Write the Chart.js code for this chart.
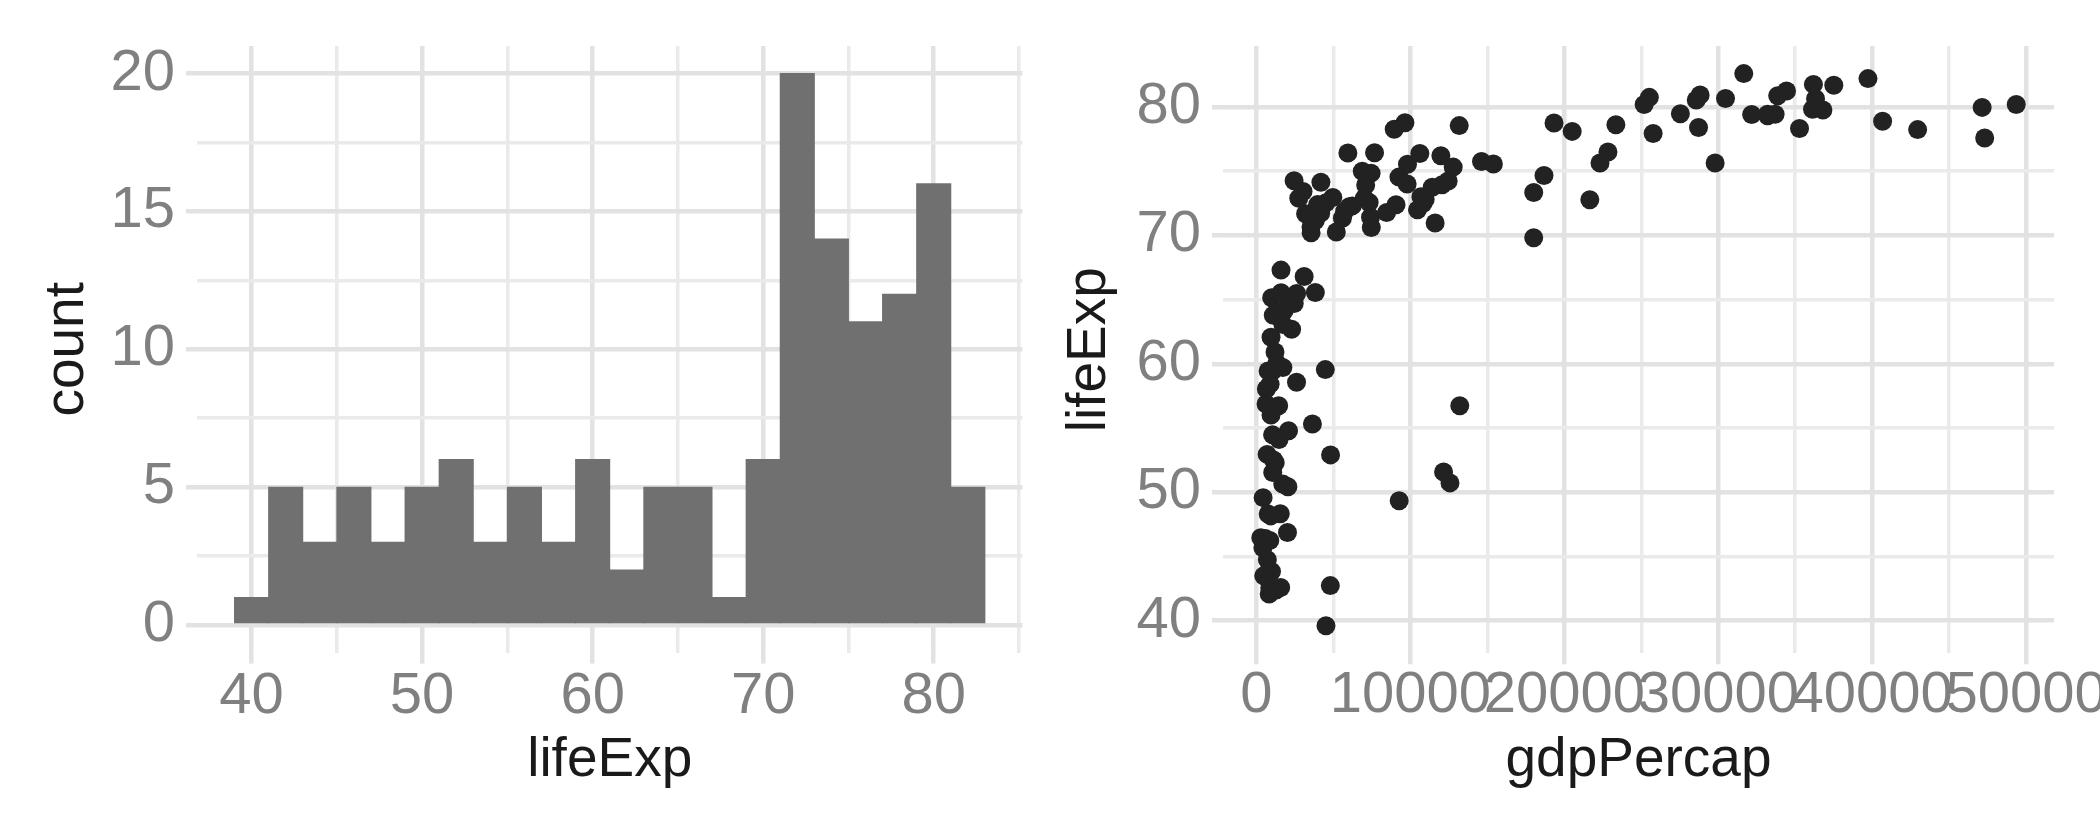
<!DOCTYPE html>
<html>
<head>
<meta charset="utf-8">
<script src="https://cdn.jsdelivr.net/npm/chart.js@4.4.1/dist/chart.umd.min.js"></script>
<style>
  body { margin: 0; background: #fff; }
  canvas { position: absolute; top: 0; }
  #histograma { left: 0; }
  #dispersion { left: 1050px; }
</style>
</head>
<body>
<canvas id="histograma" width="1050" height="840"></canvas>
<canvas id="dispersion" width="1050" height="840"></canvas>
<script>
// histograma de lifeExp (bins de 2 años)
const centrosBins = [40, 42, 44, 46, 48, 50, 52, 54, 56, 58, 60, 62, 64, 66, 68, 70, 72, 74, 76, 78, 80, 82];
const conteos = [1, 5, 3, 5, 3, 5, 6, 3, 5, 3, 6, 2, 5, 5, 1, 6, 20, 14, 11, 12, 16, 5];

// dispersión gdpPercap vs lifeExp
const gdpPercap = [975, 5937, 6223, 4797, 12779, 34435, 36126, 29796, 1391, 33693,
  1441, 3822, 7446, 12570, 9066, 10681, 1217, 430, 1714, 2042,
  36319, 706, 1704, 13172, 4959, 7007, 986, 278, 3633, 9645,
  1545, 14619, 8948, 22833, 35278, 2082, 6025, 6873, 5581, 5728,
  12154, 641, 691, 33207, 30470, 13206, 753, 32170, 1328, 27538,
  5186, 943, 579, 1202, 3548, 39725, 18009, 36181, 2452, 3541,
  11606, 4471, 40676, 25523, 28570, 7321, 31656, 4519, 1463, 1593,
  23348, 47307, 10461, 1569, 415, 12058, 1045, 759, 12452, 1043,
  1803, 10957, 11978, 3096, 9254, 3820, 824, 944, 4811, 1091,
  36798, 25185, 2749, 620, 2014, 49357, 22316, 2606, 9809, 4173,
  7409, 3190, 15390, 20510, 19329, 7670, 10808, 863, 1598, 21655,
  1712, 9787, 863, 47143, 18678, 25768, 926, 9270, 28821, 3970,
  2602, 4513, 33860, 37506, 4185, 28718, 1107, 7458, 883, 18009,
  7093, 8458, 1056, 33203, 42952, 10611, 11416, 2442, 3025, 2281,
  1271, 470];
const lifeExp = [43.83, 76.42, 72.30, 42.73, 75.32, 81.24, 79.83, 75.64, 64.06, 79.44,
  56.73, 65.55, 74.85, 50.73, 72.39, 73.01, 52.30, 49.58, 59.72, 50.43,
  80.65, 44.74, 50.65, 78.55, 72.96, 72.89, 65.15, 46.46, 55.32, 78.78,
  48.33, 75.75, 78.27, 76.49, 78.33, 54.79, 72.24, 74.99, 71.34, 71.88,
  51.58, 58.04, 52.95, 79.31, 80.66, 56.74, 59.45, 79.41, 60.02, 79.48,
  70.26, 56.01, 46.39, 60.92, 70.20, 82.21, 73.34, 81.76, 64.70, 70.65,
  70.96, 59.55, 78.89, 80.75, 80.55, 72.57, 82.60, 72.54, 54.11, 67.30,
  78.62, 77.59, 71.99, 42.59, 45.68, 73.95, 59.44, 48.30, 74.24, 54.47,
  64.16, 72.80, 76.20, 66.80, 74.54, 71.16, 42.08, 62.07, 52.91, 63.79,
  79.76, 80.20, 72.90, 56.87, 46.86, 80.20, 75.64, 65.48, 75.54, 71.75,
  71.42, 71.69, 75.56, 78.10, 78.75, 76.44, 72.48, 46.24, 65.53, 72.78,
  63.06, 74.00, 42.57, 79.97, 74.66, 77.93, 48.16, 49.34, 80.94, 72.40,
  58.56, 39.61, 80.88, 81.70, 74.14, 78.40, 52.52, 70.62, 58.42, 69.82,
  73.92, 71.78, 51.54, 79.43, 78.24, 76.38, 73.75, 74.25, 73.42, 62.70,
  42.38, 43.49];

// marcas de los ejes (mayores con etiqueta, menores solo rejilla)
const ticksVida = [40, 50, 60, 70, 80];
const ticksMenoresVida = [45, 55, 65, 75, 85];
const ticksConteo = [0, 5, 10, 15, 20];
const ticksMenoresConteo = [2.5, 7.5, 12.5, 17.5];
const ticksVidaY = [40, 50, 60, 70, 80];
const ticksMenoresVidaY = [45, 55, 65, 75];
const ticksGdp = [0, 10000, 20000, 30000, 40000, 50000];
const ticksMenoresGdp = [5000, 15000, 25000, 35000, 45000];

const fuente = "'Liberation Sans', Arial, sans-serif";
const gris = '#808080', negro = '#1a1a1a';
const colorMayor = '#e2e2e2', colorMenor = '#eaeaea';

function rejilla(mayores){
  const esMayor = c => c.tick && mayores.includes(c.tick.value);
  return {
    offset: false,
    color: c => esMayor(c) ? colorMayor : colorMenor,
    lineWidth: c => esMayor(c) ? 4.5 : 3.5,
    tickColor: c => esMayor(c) ? colorMayor : 'rgba(0,0,0,0)',
    tickLength: 11,
    drawTicks: true
  };
}

function eje(mayores, menores, extra){
  return Object.assign({
    type: 'linear',
    offset: false,
    border: { display: false },
    grid: rejilla(mayores),
    afterBuildTicks: s => {
      s.ticks = mayores.concat(menores).sort((a, b) => a - b).map(v => ({ value: v }));
    },
    ticks: {
      autoSkip: false, maxRotation: 0, minRotation: 0,
      color: gris, font: { family: fuente, size: 58, lineHeight: 1 },
      callback: v => mayores.includes(v) ? String(v) : ''
    }
  }, extra);
}

function titulo(texto, padding){
  return { display: true, text: texto, color: negro, font: { family: fuente, size: 55, lineHeight: 1.2 }, padding: padding };
}

const comunes = {
  responsive: false,
  devicePixelRatio: 1,
  animation: false,
  events: [],
  plugins: { legend: { display: false }, tooltip: { enabled: false } }
};

let grafico1 = new Chart(document.getElementById('histograma').getContext('2d'), {
  type: 'bar',
  data: {
    datasets: [{
      data: centrosBins.map((c, i) => ({ x: c, y: conteos[i] })),
      backgroundColor: '#707070',
      borderWidth: 0,
      barPercentage: 1,
      categoryPercentage: 1,
      inflateAmount: 0.5
    }]
  },
  options: Object.assign({}, comunes, {
    layout: { padding: { left: 0, top: 46, right: 27.6, bottom: 0 } },
    scales: {
      x: eje(ticksVida, ticksMenoresVida, {
        min: 36.8, max: 85.2,
        title: titulo('lifeExp', { top: 0, bottom: 46 }),
        afterFit: s => { s.height = 187.4; s.paddingLeft = 0; s.paddingRight = 0; }
      }),
      y: eje(ticksConteo, ticksMenoresConteo, {
        min: -1, max: 21,
        title: titulo('count', { top: 35, bottom: 0 }),
        afterFit: s => { s.width = 197; s.paddingTop = 0; s.paddingBottom = 0; }
      })
    }
  })
});
grafico1.options.scales.x.ticks.padding = 4;
grafico1.options.scales.y.ticks.padding = 11;
grafico1.update();

let grafico2 = new Chart(document.getElementById('dispersion').getContext('2d'), {
  type: 'scatter',
  data: {
    datasets: [{
      data: gdpPercap.map((g, i) => ({ x: g, y: lifeExp[i] })),
      pointRadius: 9.5,
      pointBackgroundColor: '#222222',
      pointBorderWidth: 0
    }]
  },
  options: Object.assign({}, comunes, {
    layout: { padding: { left: 0, top: 46, right: 46, bottom: 0 } },
    scales: {
      x: eje(ticksGdp, ticksMenoresGdp, {
        min: -2176, max: 51811,
        title: titulo('gdpPercap', { top: 0, bottom: 46 }),
        afterFit: s => { s.height = 186.7; s.paddingLeft = 0; s.paddingRight = 0; }
      }),
      y: eje(ticksVidaY, ticksMenoresVidaY, {
        min: 37.46, max: 84.75,
        title: titulo('lifeExp', { top: 7, bottom: 0 }),
        afterFit: s => { s.width = 173; s.paddingTop = 0; s.paddingBottom = 0; }
      })
    }
  })
});
grafico2.options.scales.x.ticks.padding = 3;
grafico2.options.scales.y.ticks.padding = 11;
grafico2.update();
</script>
</body>
</html>
